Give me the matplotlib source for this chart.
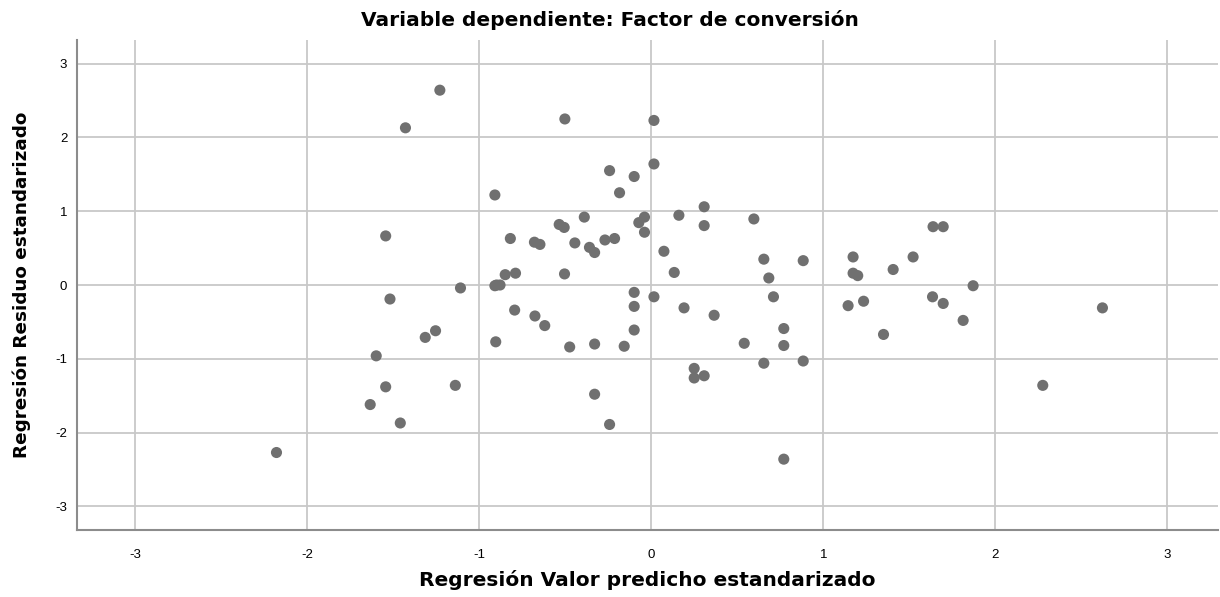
import matplotlib
matplotlib.use("Agg")
import matplotlib.pyplot as plt

# -------- Data --------
pred_std = [
    -2.18, -1.23, -1.43, -1.545, -1.52, -1.60, -1.545, -1.635, -1.46, -1.11,
    -1.315, -1.255, -1.14, -0.905, -0.91, -0.90, -0.88, -0.85, -0.79, -0.505,
    -0.10, 0.015, -0.795, -0.677, -0.62, -0.10, -0.10, -0.475, -0.33, -0.158,
    -0.33, -0.243, -0.503, 0.015, 0.015, -0.243, -0.10, -0.185, -0.91, -0.39,
    -0.536, -0.507, -0.04, -0.073, -0.04, -0.82, -0.68, -0.648, -0.445, -0.36,
    -0.33, -0.27, -0.214, 0.16, 0.307, 0.307, 0.596, 0.073, 0.133, 0.654,
    0.883, 0.683, 1.173, 1.173, 1.20, 1.406, 1.522, 1.638, 1.697, 0.19,
    0.365, 0.71, 0.77, 0.77, 0.54, 0.654, 0.883, 0.249, 0.249, 0.307,
    0.77, 1.144, 1.234, 1.35, 1.635, 1.697, 1.871, 1.813, 2.623, 2.276,
]
resid_std = [
    -2.27, 2.64, 2.13, 0.665, -0.19, -0.96, -1.38, -1.62, -1.87, -0.04,
    -0.71, -0.62, -1.36, -0.77, -0.01, 0.00, 0.00, 0.14, 0.16, 0.15,
    -0.10, -0.16, -0.34, -0.42, -0.55, -0.29, -0.61, -0.84, -0.80, -0.83,
    -1.48, -1.89, 2.25, 2.23, 1.64, 1.55, 1.47, 1.25, 1.22, 0.92,
    0.82, 0.78, 0.92, 0.845, 0.715, 0.63, 0.58, 0.55, 0.57, 0.51,
    0.44, 0.61, 0.63, 0.945, 1.06, 0.805, 0.895, 0.457, 0.17, 0.35,
    0.33, 0.095, 0.38, 0.16, 0.127, 0.21, 0.38, 0.79, 0.79, -0.31,
    -0.41, -0.16, -0.59, -0.82, -0.79, -1.06, -1.03, -1.13, -1.26, -1.23,
    -2.36, -0.28, -0.22, -0.67, -0.16, -0.25, -0.01, -0.48, -0.31, -1.36,
]
ticks = [-3, -2, -1, 0, 1, 2, 3]

TITLE = "Variable dependiente: Factor de conversión"
XLABEL = "Regresión Valor predicho estandarizado"
YLABEL = "Regresión Residuo estandarizado"

plt.rcParams["font.family"] = ["Liberation Sans", "DejaVu Sans"]
plt.rcParams["axes.unicode_minus"] = False

fig = plt.figure(figsize=(12.2, 5.97), dpi=100)
ax = fig.add_axes([77 / 1220, 1 - 530 / 597, 1141 / 1220, 490 / 597])

ax.scatter(pred_std, resid_std, s=64, color="#707070", edgecolors="none", zorder=3)

ax.set_xlim(-3.34, 3.295)
ax.set_ylim(-3.32, 3.32)
ax.set_xticks(ticks)
ax.set_yticks(ticks)
ax.grid(True, color="#c8c8c8", linewidth=1.3)
ax.set_axisbelow(True)

for side in ["top", "right"]:
    ax.spines[side].set_visible(False)
for side in ["left", "bottom"]:
    ax.spines[side].set_color("#8c8c8c")
    ax.spines[side].set_linewidth(1.5)

ax.tick_params(axis="x", length=0, pad=14, labelsize=9.5)
ax.tick_params(axis="y", length=0, pad=7, labelsize=9.5)

# labels placed where the reference has them (pixel based)
label_font = dict(family="DejaVu Sans", fontsize=14.5, fontweight="bold")
ax.set_xlabel(XLABEL, va="center", **label_font)
ax.xaxis.set_label_coords(0.5, (530 - 580) / 490)
ax.set_ylabel(YLABEL, va="center", family="DejaVu Sans", fontsize=13.2,
              fontweight="bold")
ax.yaxis.set_label_coords((22 - 77) / 1141, 0.5)
fig.text(0.5, 1 - 20 / 597, TITLE, ha="center", va="center", **label_font)

fig.savefig("out.png", dpi=100)
